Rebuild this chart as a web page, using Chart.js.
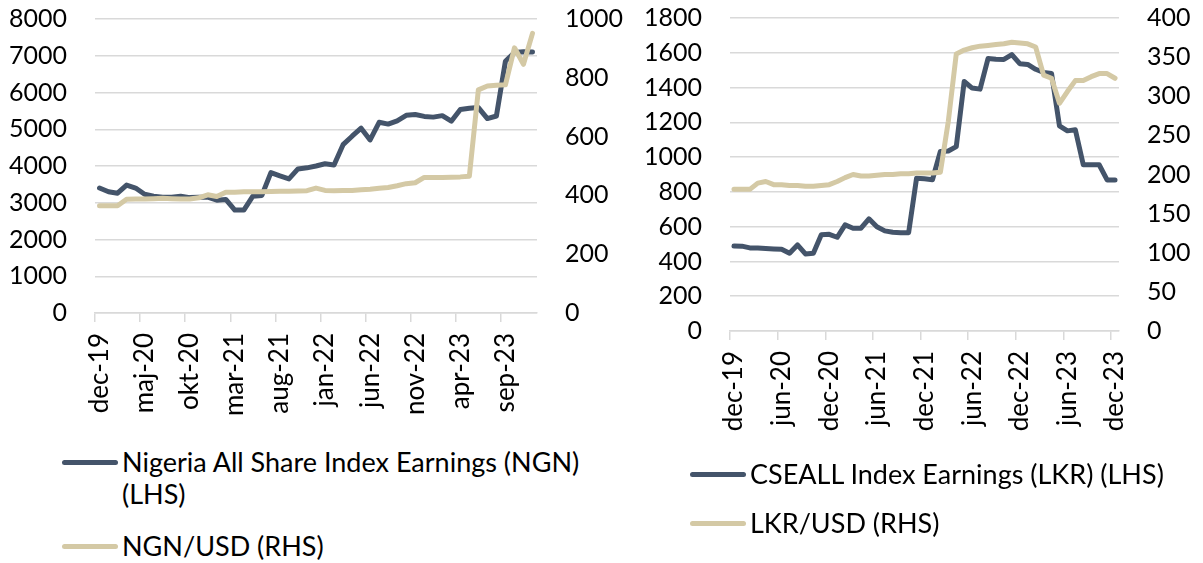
<!DOCTYPE html>
<html>
<head>
<meta charset="utf-8">
<script src="https://cdn.jsdelivr.net/npm/chart.js@4.4.1/dist/chart.umd.min.js"></script>
<style>
  body { margin: 0; background: #fff; width: 1203px; height: 563px; overflow: hidden; position: relative; font-family: Lato, "Liberation Sans", sans-serif; }
  canvas { position: absolute; top: 0; }
  #leftChart { left: 0; }
  #rightChart { left: 640px; }
  .legend-row { position: absolute; display: flex; align-items: flex-start; font-size: 27px; line-height: 32px; color: #000; }
  .legend-swatch { width: 56px; height: 5px; border-radius: 3px; margin-top: 14px; margin-right: 4px; flex: none; }
</style>
</head>
<body>
<canvas id="leftChart" width="640" height="440"></canvas>
<canvas id="rightChart" width="563" height="460"></canvas>
<div id="leftLegend"></div>
<div id="rightLegend"></div>
<script>
const DARK = '#44546A';
const SAND = '#D4C9A5';
const GRID = '#D9D9D9';
const FONT_Y = { family: 'Lato, "Liberation Sans", sans-serif', size: 25 };
const FONT_X = { family: 'Lato, "Liberation Sans", sans-serif', size: 26 };

// monthly, dec-19 .. dec-23
const months = [
    'dec-19',
    'jan-20', 'feb-20', 'mar-20', 'apr-20', 'maj-20', 'jun-20', 'jul-20', 'aug-20', 'sep-20', 'okt-20', 'nov-20', 'dec-20',
    'jan-21', 'feb-21', 'mar-21', 'apr-21', 'maj-21', 'jun-21', 'jul-21', 'aug-21', 'sep-21', 'okt-21', 'nov-21', 'dec-21',
    'jan-22', 'feb-22', 'mar-22', 'apr-22', 'maj-22', 'jun-22', 'jul-22', 'aug-22', 'sep-22', 'okt-22', 'nov-22', 'dec-22',
    'jan-23', 'feb-23', 'mar-23', 'apr-23', 'maj-23', 'jun-23', 'jul-23', 'aug-23', 'sep-23', 'okt-23', 'nov-23', 'dec-23'
];

// Nigeria
const ngnIndex = [3400, 3300, 3260, 3480, 3400, 3230, 3180, 3150, 3150, 3180, 3140, 3150, 3150, 3070, 3090, 2800, 2800,
    3180, 3200, 3820, 3730, 3650, 3920, 3950, 4000, 4060, 4030, 4580, 4810, 5030, 4710, 5190, 5140, 5230, 5380, 5400,
    5350, 5330, 5370, 5220, 5540, 5570, 5590, 5290, 5360, 6850, 7090, 7110, 7100];
const ngnUsd = [365, 365, 365, 387, 388, 388, 389, 390, 389, 388, 388, 392, 402, 396, 411, 411, 412, 412, 412, 413,
    414, 414, 415, 416, 425, 417, 416, 417, 417, 419, 421, 424, 427, 433, 440, 443, 461, 461, 461, 462,
    463, 465, 759, 772, 775, 776, 902, 846, 951];
const ngnLeftTicks = [0, 8000, 1000];
const ngnRightTicks = [0, 1000, 200];

// Sri Lanka
const cseIndex = [489, 488, 478, 478, 475, 472, 470, 447, 495, 443, 447, 553, 556, 539, 610, 591, 591, 645, 600, 576,
    568, 565, 565, 879, 875, 870, 1032, 1035, 1060, 1435, 1397, 1391, 1567, 1563, 1562, 1590, 1537, 1533, 1505, 1487,
    1481, 1180, 1151, 1157, 956, 956, 956, 869, 869];
const lkrUsd = [181, 181, 181, 189, 191, 187, 187, 186, 186, 185, 185, 186, 187, 191, 196, 200, 198, 198, 199, 200,
    200, 201, 201, 202, 202, 202, 203, 268, 354, 359, 362, 364, 365, 366, 367, 369, 368, 367, 363, 327,
    323, 291, 306, 320, 320, 325, 329, 329, 323];
const cseLeftTicks = [0, 1800, 200];
const cseRightTicks = [0, 400, 50];

function makeChart(id, o) {
    const every = o.labelEvery;
    const yTicks = { color: '#000', font: FONT_Y, padding: 28, autoSkip: false, callback: v => String(v) };
    // y axes: fixed width, and drop the label overflow padding so the plot top sits where we want
    const fixWidth = w => s => { s.width = w; s.paddingTop = 0; s.paddingBottom = 0; };
    return new Chart(document.getElementById(id), {
        type: 'line',
        data: {
            labels: months,
            datasets: [
                { label: o.leftLabel, data: o.left, borderColor: DARK, yAxisID: 'y', order: 1 },
                { label: o.rightLabel, data: o.right, borderColor: SAND, yAxisID: 'y1', order: 0 }
            ]
        },
        options: {
            responsive: false,
            devicePixelRatio: 1,
            animation: false,
            layout: { padding: { top: o.top, left: 0, right: 0, bottom: 0 } },
            elements: {
                line: { borderWidth: 5, tension: 0, borderJoinStyle: 'round', borderCapStyle: 'round', fill: false },
                point: { radius: 0, hoverRadius: 0 }
            },
            plugins: { legend: { display: false }, tooltip: { enabled: false } },
            scales: {
                x: {
                    offset: true,
                    grid: {
                        offset: true,
                        drawOnChartArea: false,
                        tickLength: 9,
                        lineWidth: 1.5,
                        color: c => (c.index !== undefined && c.index % every === 0) ? GRID : 'rgba(0,0,0,0)'
                    },
                    border: { display: true, color: GRID, width: 1.5 },
                    ticks: {
                        color: '#000',
                        font: FONT_X,
                        autoSkip: false,
                        minRotation: 90,
                        maxRotation: 90,
                        padding: 11,
                        callback: (v, i) => (i % every === 0 ? months[i] : '')
                    },
                    afterFit: s => { s.height = o.xHeight; }
                },
                y: {
                    position: 'left',
                    min: o.leftTicks[0],
                    max: o.leftTicks[1],
                    ticks: { ...yTicks, stepSize: o.leftTicks[2] },
                    grid: { color: GRID, lineWidth: 1.5, drawTicks: false },
                    border: { display: false },
                    afterFit: fixWidth(o.leftWidth)
                },
                y1: {
                    position: 'right',
                    min: o.rightTicks[0],
                    max: o.rightTicks[1],
                    ticks: { ...yTicks, stepSize: o.rightTicks[2] },
                    grid: { drawOnChartArea: false, drawTicks: false },
                    border: { display: false },
                    afterFit: fixWidth(o.rightWidth)
                }
            }
        }
    });
}

function buildLegend(id, chart, rows) {
    document.getElementById(id).innerHTML = chart.data.datasets.map((ds, i) => `
        <div class="legend-row" style="left:${rows[i].x}px; top:${rows[i].y}px; width:${rows[i].w}px">
            <span class="legend-swatch" style="background:${ds.borderColor}"></span>
            <span>${ds.label}</span>
        </div>
    `).join('');
}

const leftChart = makeChart('leftChart', {
    left: ngnIndex, right: ngnUsd,
    leftLabel: 'Nigeria All Share Index Earnings (NGN) (LHS)', rightLabel: 'NGN/USD (RHS)',
    leftTicks: ngnLeftTicks, rightTicks: ngnRightTicks,
    labelEvery: 5, top: 19, leftWidth: 95, rightWidth: 103, xHeight: 127
});

const rightChart = makeChart('rightChart', {
    left: cseIndex, right: lkrUsd,
    leftLabel: 'CSEALL Index Earnings (LKR) (LHS)', rightLabel: 'LKR/USD (RHS)',
    leftTicks: cseLeftTicks, rightTicks: cseRightTicks,
    labelEvery: 6, top: 18, leftWidth: 90, rightWidth: 84, xHeight: 129
});

buildLegend('leftLegend', leftChart, [{ x: 62, y: 446, w: 540 }, { x: 62, y: 530, w: 540 }]);
buildLegend('rightLegend', rightChart, [{ x: 690, y: 458, w: 513 }, { x: 690, y: 507, w: 513 }]);
</script>
</body>
</html>
